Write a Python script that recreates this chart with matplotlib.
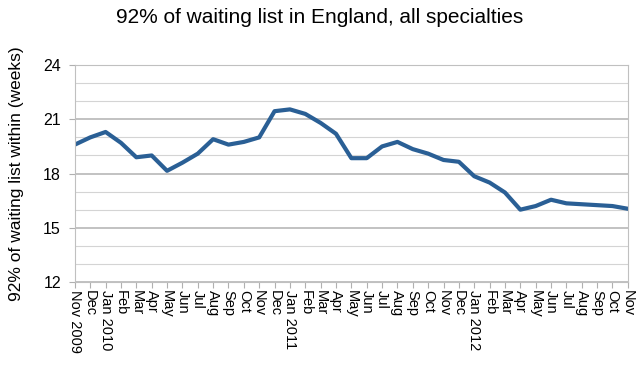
import matplotlib
matplotlib.use("Agg")
import matplotlib.pyplot as plt
from matplotlib.ticker import MultipleLocator

plt.rcParams['font.family'] = ['Liberation Sans', 'DejaVu Sans']

months = ["Nov 2009", "Dec", "Jan 2010", "Feb", "Mar", "Apr", "May", "Jun", "Jul", "Aug",
          "Sep", "Oct", "Nov", "Dec", "Jan 2011", "Feb", "Mar", "Apr", "May", "Jun", "Jul",
          "Aug", "Sep", "Oct", "Nov", "Dec", "Jan 2012", "Feb", "Mar", "Apr", "May", "Jun",
          "Jul", "Aug", "Sep", "Oct", "Nov"]
weeks = [19.6, 20.0, 20.3, 19.7, 18.9, 19.0, 18.15, 18.6, 19.1, 19.9,
         19.6, 19.75, 20.0, 21.45, 21.55, 21.3, 20.8, 20.2, 18.85, 18.85, 19.5,
         19.75, 19.35, 19.1, 18.75, 18.65, 17.85, 17.5, 16.95, 16.0, 16.2, 16.55,
         16.35, 16.3, 16.25, 16.2, 16.05]

fig = plt.figure(figsize=(6.4, 3.7), dpi=100)
ax = fig.add_axes([0.117, 0.238, 0.864, 0.586])
x = list(range(len(months)))
ax.plot(x, weeks, color='#2a5f95', linewidth=3, solid_joinstyle='round')
ax.set_xlim(0, len(months) - 1)
ax.set_ylim(12, 24)
ax.yaxis.set_major_locator(MultipleLocator(3))
ax.yaxis.set_minor_locator(MultipleLocator(1))
ax.grid(True, which='major', axis='y', color='#b8b8b8', linewidth=1.2)
ax.grid(True, which='minor', axis='y', color='#d4d4d4', linewidth=0.8)
ax.set_axisbelow(True)
ax.set_xticks(x)
ax.set_xticklabels(months, rotation=-90, fontsize=10.5, va='top', ha='center')
ax.tick_params(axis='x', length=4, color='#b0b0b0', pad=2)
ax.tick_params(axis='y', which='major', length=4, color='#b0b0b0', labelsize=11.5, pad=6)
ax.tick_params(axis='y', which='minor', length=0)
for s in ax.spines.values():
    s.set_color('#c0c0c0')
ax.set_ylabel('92% of waiting list within (weeks)', fontsize=12.5, labelpad=14)
fig.suptitle('92% of waiting list in England, all specialties', fontsize=15, y=0.978)
fig.savefig('out.png', dpi=100)
